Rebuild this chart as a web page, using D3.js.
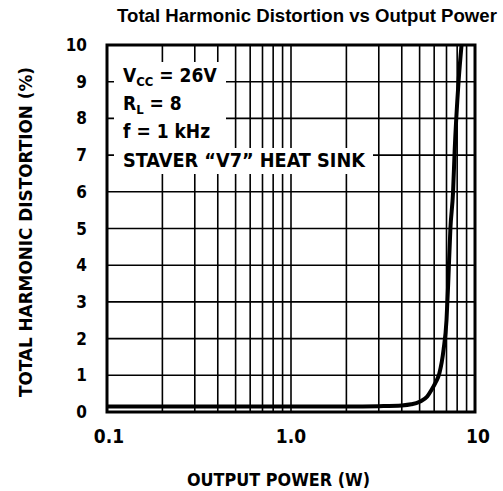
<!DOCTYPE html>
<html>
<head>
<meta charset="utf-8">
<script src="https://cdn.jsdelivr.net/npm/d3@7"></script>
<style>
  body { margin: 0; background: #fff; }
  svg text { fill: #000; }
  .cond { font-family: "Liberation Sans Narrow", "DejaVu Sans Condensed", "Arial Narrow", sans-serif; font-weight: bold; }
</style>
</head>
<body>
<div id="chart"></div>
<script>
// data
var powerW = [0.1, 0.5, 1, 2, 3, 4, 4.5, 5, 5.5, 5.8, 6.1, 6.4, 6.75, 7.0, 7.15, 7.35, 7.6, 7.75, 8.14, 8.45];
var thdPct = [0.15, 0.15, 0.15, 0.15, 0.16, 0.18, 0.21, 0.28, 0.42, 0.6, 0.8, 1.05, 1.7, 2.5, 3.5, 5.0, 6.0, 7.1, 9.0, 10];

// axis ticks
var xTickVals = [0.1, 1, 10];
var xTickLabels = ["0.1", "1.0", "10"];
var yTickVals = [0, 1, 2, 3, 4, 5, 6, 7, 8, 9, 10];

var svgWidth = 503, svgHeight = 491;
var margin = { top: 45, right: 28, bottom: 79, left: 107 };
var plotW = svgWidth - margin.left - margin.right;
var plotH = svgHeight - margin.top - margin.bottom;

var svg = d3.select("#chart").append("svg")
  .attr("width", svgWidth)
  .attr("height", svgHeight);

var g = svg.append("g")
  .attr("transform", `translate(${margin.left}, ${margin.top})`);

var x = d3.scaleLog().domain([0.1, 10]).range([0, plotW]);
var y = d3.scaleLinear().domain([0, 10]).range([plotH, 0]);

// minor log grid: 0.2..0.9, 2..9
var gridX = [];
[0.1, 1].forEach(function(dec) {
  for (var k = 2; k <= 9; k++) gridX.push(dec * k);
});
gridX.push(1);

g.selectAll(".vgrid").data(gridX).enter().append("line")
  .attr("x1", d => x(d)).attr("x2", d => x(d))
  .attr("y1", 0).attr("y2", plotH)
  .attr("stroke", "#000").attr("stroke-width", 1.6);

g.selectAll(".hgrid").data(yTickVals.slice(1, 10)).enter().append("line")
  .attr("x1", 0).attr("x2", plotW)
  .attr("y1", d => y(d)).attr("y2", d => y(d))
  .attr("stroke", "#000").attr("stroke-width", 1.6);

// white patch behind annotation
g.append("rect").attr("x", 7).attr("y", 17).attr("width", 112).attr("height", 90).attr("fill", "#fff");
g.append("rect").attr("x", 7).attr("y", 103).attr("width", 259).attr("height", 26).attr("fill", "#fff");

// frame
g.append("rect")
  .attr("x", 0).attr("y", 0).attr("width", plotW).attr("height", plotH)
  .attr("fill", "none").attr("stroke", "#000").attr("stroke-width", 3);

// curve
var line = d3.line()
  .x((d, i) => x(powerW[i]))
  .y(d => y(d))
  .curve(d3.curveMonotoneX);

g.append("path")
  .datum(thdPct)
  .attr("d", line)
  .attr("fill", "none")
  .attr("stroke", "#000")
  .attr("stroke-width", 4);

// y tick labels
g.selectAll(".ylab").data(yTickVals).enter().append("text")
  .attr("class", "cond")
  .attr("x", -20)
  .attr("y", d => y(d) + 6)
  .attr("text-anchor", "end")
  .attr("font-size", 17)
  .text(d => d);

// x tick labels
g.selectAll(".xlab").data(xTickVals).enter().append("text")
  .attr("class", "cond")
  .attr("x", (d, i) => x(d) + (i == 0 ? 2 : (i == 2 ? 3 : 0)))
  .attr("y", plotH + 31)
  .attr("text-anchor", "middle")
  .attr("font-size", 19)
  .text((d, i) => xTickLabels[i]);

// axis titles
svg.append("text")
  .attr("class", "cond")
  .attr("x", 187).attr("y", 486)
  .attr("font-size", 18)
  .attr("textLength", 183).attr("lengthAdjust", "spacingAndGlyphs")
  .text("OUTPUT POWER (W)");

svg.append("text")
  .attr("class", "cond")
  .attr("transform", "translate(32, 397) rotate(-90)")
  .attr("font-size", 18)
  .attr("textLength", 330).attr("lengthAdjust", "spacingAndGlyphs")
  .text("TOTAL HARMONIC DISTORTION (%)");

// title
svg.append("text")
  .attr("x", 307).attr("y", 22)
  .attr("text-anchor", "middle")
  .attr("font-family", "Liberation Sans, Arial, sans-serif")
  .attr("font-weight", "bold")
  .attr("font-size", 18.6)
  .text("Total Harmonic Distortion vs Output Power");

// annotation
var ann = g.append("g").attr("class", "cond").attr("font-size", 19);
var t1 = ann.append("text").attr("x", 16).attr("y", 37);
t1.append("tspan").text("V");
t1.append("tspan").attr("dy", 4).attr("font-size", 13).text("CC");
t1.append("tspan").attr("dy", -4).text(" = 26V");
var t2 = ann.append("text").attr("x", 16).attr("y", 65);
t2.append("tspan").text("R");
t2.append("tspan").attr("dy", 4).attr("font-size", 13).text("L");
t2.append("tspan").attr("dy", -4).text(" = 8");
ann.append("text").attr("x", 16).attr("y", 93).text("f = 1 kHz");
ann.append("text").attr("x", 16).attr("y", 122)
  .attr("textLength", 242).attr("lengthAdjust", "spacingAndGlyphs")
  .text("STAVER \u201CV7\u201D HEAT SINK");
</script>
</body>
</html>
